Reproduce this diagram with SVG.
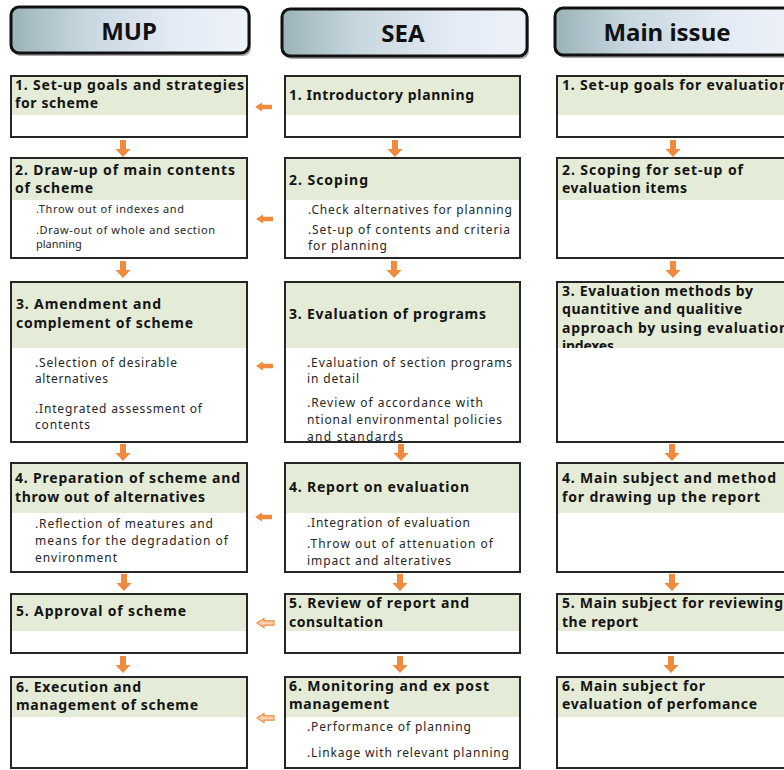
<svg xmlns="http://www.w3.org/2000/svg" width="784" height="770" viewBox="0 0 784 770">
<style>
.box{fill:none;stroke:#262626;stroke-width:2}
.bg{fill:#ffffff}
.band{fill:#e4ebd6}
.t{font-family:"Noto Sans","Liberation Sans",sans-serif;font-weight:700;font-size:14px;fill:#141414}
.i{font-family:"Noto Sans","Liberation Sans",sans-serif;font-size:12px;fill:#262626}
.s{font-size:11px}
.h{font-family:"Noto Sans","Liberation Sans",sans-serif;font-weight:700;font-size:24px;fill:#111;text-anchor:middle}
.hd{stroke:#111;stroke-width:3;fill:url(#hg)}
.hs{fill:#555;opacity:0.5}
.arr{fill:#ef8a3e}
.arr2{fill:#fbd2b2;stroke:#ef8a3e;stroke-width:1.2}
</style>
<defs>
<linearGradient id="hg" x1="0" y1="0" x2="1" y2="0">
<stop offset="0" stop-color="#9ab3b8"/>
<stop offset="0.3" stop-color="#c6d6df"/>
<stop offset="0.7" stop-color="#e4ebf5"/>
<stop offset="1" stop-color="#eef2f9"/>
</linearGradient>
<path id="dn" d="M-3 0 h6 v9 h4.5 l-7.5 8 l-7.5 -8 h4.5 z"/>
<path id="lf" d="M0 0 l7 -4.5 v2.3 h10 v4.4 h-10 v2.3 z"/>
<clipPath id="c3s"><rect x="285" y="282" width="235" height="159"/></clipPath>
<clipPath id="c3m"><rect x="557" y="282" width="240" height="66"/></clipPath>
</defs>
<rect width="784" height="770" fill="#ffffff"/>

<g id="header-mup">
<rect class="hs" x="13" y="10" width="238" height="46" rx="8"/>
<rect class="hd" x="11" y="7" width="238" height="46" rx="8"/>
<text class="h" x="129" y="40">MUP</text>
</g>
<g id="header-sea">
<rect class="hs" x="284" y="12" width="245" height="47" rx="8"/>
<rect class="hd" x="282" y="9" width="245" height="47" rx="8"/>
<text class="h" x="403" y="42">SEA</text>
</g>
<g id="header-main">
<rect class="hs" x="557" y="11" width="240" height="47" rx="8"/>
<rect class="hd" x="555" y="8" width="240" height="47" rx="8"/>
<text class="h" x="667" y="41">Main issue</text>
</g>

<!-- Row 1 -->
<g id="mup1">
<rect class="bg" x="11" y="76" width="236" height="61"/>
<rect class="band" x="11" y="76" width="236" height="39"/>
<rect class="box" x="11" y="76" width="236" height="61"/>
<text class="t" x="15" y="90" textLength="229">1. Set-up goals and strategies</text>
<text class="t" x="15" y="108" textLength="83">for scheme</text>
</g>
<g id="sea1">
<rect class="bg" x="285" y="76" width="235" height="61"/>
<rect class="band" x="285" y="76" width="235" height="39"/>
<rect class="box" x="285" y="76" width="235" height="61"/>
<text class="t" x="289" y="100" textLength="185">1. Introductory planning</text>
</g>
<g id="main1">
<rect class="bg" x="557" y="76" width="240" height="61"/>
<rect class="band" x="557" y="76" width="240" height="39"/>
<rect class="box" x="557" y="76" width="240" height="61"/>
<text class="t" x="562" y="90" textLength="226">1. Set-up goals for evaluation</text>
</g>

<!-- Row 2 -->
<g id="mup2">
<rect class="bg" x="11" y="158" width="236" height="100"/>
<rect class="band" x="11" y="158" width="236" height="42"/>
<rect class="box" x="11" y="158" width="236" height="100"/>
<text class="t" x="15" y="175" textLength="220">2. Draw-up of main contents</text>
<text class="t" x="15" y="193" textLength="78">of scheme</text>
<text class="i s" x="36" y="213" textLength="148">.Throw out of indexes and</text>
<text class="i s" x="36" y="234" textLength="179">.Draw-out of whole and section</text>
<text class="i s" x="36" y="248">planning</text>
</g>
<g id="sea2">
<rect class="bg" x="285" y="158" width="235" height="100"/>
<rect class="band" x="285" y="158" width="235" height="42"/>
<rect class="box" x="285" y="158" width="235" height="100"/>
<text class="t" x="289" y="185" textLength="79">2. Scoping</text>
<text class="i" x="308" y="214" textLength="204">.Check alternatives for planning</text>
<text class="i" x="308" y="234" textLength="202">.Set-up of contents and criteria</text>
<text class="i" x="308" y="250" textLength="79">for planning</text>
</g>
<g id="main2">
<rect class="bg" x="557" y="158" width="240" height="100"/>
<rect class="band" x="557" y="158" width="240" height="42"/>
<rect class="box" x="557" y="158" width="240" height="100"/>
<text class="t" x="562" y="175" textLength="181">2. Scoping for set-up of</text>
<text class="t" x="562" y="193" textLength="125">evaluation items</text>
</g>

<!-- Row 3 -->
<g id="mup3">
<rect class="bg" x="11" y="282" width="236" height="160"/>
<rect class="band" x="11" y="282" width="236" height="66"/>
<rect class="box" x="11" y="282" width="236" height="160"/>
<text class="t" x="16" y="309" textLength="145">3. Amendment and</text>
<text class="t" x="16" y="328" textLength="177">complement of scheme</text>
<text class="i" x="35" y="367" textLength="142">.Selection of desirable</text>
<text class="i" x="35" y="383" textLength="73">alternatives</text>
<text class="i" x="35" y="413" textLength="167">.Integrated assessment of</text>
<text class="i" x="35" y="429" textLength="55">contents</text>
</g>
<g id="sea3">
<rect class="bg" x="285" y="282" width="235" height="160"/>
<rect class="band" x="285" y="282" width="235" height="66"/>
<text class="t" x="289" y="319" textLength="197">3. Evaluation of programs</text>
<g clip-path="url(#c3s)">
<text class="i" x="307" y="367" textLength="205">.Evaluation of section programs</text>
<text class="i" x="307" y="383" textLength="52">in detail</text>
<text class="i" x="307" y="407" textLength="176">.Review of accordance with</text>
<text class="i" x="307" y="424" textLength="195">ntional environmental policies</text>
<text class="i" x="307" y="441" textLength="96">and standards</text>
</g>
<rect class="box" x="285" y="282" width="235" height="160"/>
</g>
<g id="main3">
<rect class="bg" x="557" y="282" width="240" height="160"/>
<rect class="band" x="557" y="282" width="240" height="66"/>
<g clip-path="url(#c3m)">
<text class="t" x="562" y="296" textLength="191">3. Evaluation methods by</text>
<text class="t" x="562" y="314" textLength="180">quantitive and qualitive</text>
<text class="t" x="562" y="333" textLength="226">approach by using evaluation</text>
<text class="t" x="562" y="351" textLength="52">indexes</text>
</g>
<rect class="box" x="557" y="282" width="240" height="160"/>
</g>

<!-- Row 4 -->
<g id="mup4">
<rect class="bg" x="11" y="463" width="236" height="109"/>
<rect class="band" x="11" y="463" width="236" height="50"/>
<rect class="box" x="11" y="463" width="236" height="109"/>
<text class="t" x="15" y="483" textLength="225">4. Preparation of scheme and</text>
<text class="t" x="15" y="502" textLength="190">throw out of alternatives</text>
<text class="i" x="35" y="528" textLength="178">.Reflection of meatures and</text>
<text class="i" x="35" y="545" textLength="193">means for the degradation of</text>
<text class="i" x="35" y="562" textLength="82">environment</text>
</g>
<g id="sea4">
<rect class="bg" x="285" y="463" width="235" height="109"/>
<rect class="band" x="285" y="463" width="235" height="50"/>
<rect class="box" x="285" y="463" width="235" height="109"/>
<text class="t" x="289" y="492" textLength="180">4. Report on evaluation</text>
<text class="i" x="307" y="527" textLength="163">.Integration of evaluation</text>
<text class="i" x="307" y="548" textLength="186">.Throw out of attenuation of</text>
<text class="i" x="307" y="565" textLength="144">impact and alteratives</text>
</g>
<g id="main4">
<rect class="bg" x="557" y="463" width="240" height="109"/>
<rect class="band" x="557" y="463" width="240" height="50"/>
<rect class="box" x="557" y="463" width="240" height="109"/>
<text class="t" x="562" y="483" textLength="214">4. Main subject and method</text>
<text class="t" x="562" y="502" textLength="198">for drawing up the report</text>
</g>

<!-- Row 5 -->
<g id="mup5">
<rect class="bg" x="11" y="594" width="236" height="59"/>
<rect class="band" x="11" y="594" width="236" height="37"/>
<rect class="box" x="11" y="594" width="236" height="59"/>
<text class="t" x="16" y="616" textLength="170">5. Approval of scheme</text>
</g>
<g id="sea5">
<rect class="bg" x="285" y="594" width="235" height="59"/>
<rect class="band" x="285" y="594" width="235" height="37"/>
<rect class="box" x="285" y="594" width="235" height="59"/>
<text class="t" x="289" y="608" textLength="180">5. Review of report and</text>
<text class="t" x="289" y="627" textLength="94">consultation</text>
</g>
<g id="main5">
<rect class="bg" x="557" y="594" width="240" height="59"/>
<rect class="band" x="557" y="594" width="240" height="37"/>
<rect class="box" x="557" y="594" width="240" height="59"/>
<text class="t" x="562" y="608" textLength="221">5. Main subject for reviewing</text>
<text class="t" x="562" y="627" textLength="76">the report</text>
</g>

<!-- Row 6 -->
<g id="mup6">
<rect class="bg" x="11" y="677" width="236" height="91"/>
<rect class="band" x="11" y="677" width="236" height="40"/>
<rect class="box" x="11" y="677" width="236" height="91"/>
<text class="t" x="16" y="692" textLength="125">6. Execution and</text>
<text class="t" x="16" y="710" textLength="182">management of scheme</text>
</g>
<g id="sea6">
<rect class="bg" x="285" y="677" width="235" height="91"/>
<rect class="band" x="285" y="677" width="235" height="40"/>
<rect class="box" x="285" y="677" width="235" height="91"/>
<text class="t" x="289" y="691" textLength="200">6. Monitoring and ex post</text>
<text class="t" x="289" y="709" textLength="100">management</text>
<text class="i" x="307" y="731" textLength="164">.Performance of planning</text>
<text class="i" x="307" y="757" textLength="202">.Linkage with relevant planning</text>
</g>
<g id="main6">
<rect class="bg" x="557" y="677" width="240" height="91"/>
<rect class="band" x="557" y="677" width="240" height="40"/>
<rect class="box" x="557" y="677" width="240" height="91"/>
<text class="t" x="562" y="691" textLength="143">6. Main subject for</text>
<text class="t" x="562" y="709" textLength="195">evaluation of perfomance</text>
</g>

<g id="connectors">
<use href="#dn" class="arr" x="123" y="140"/>
<use href="#dn" class="arr" x="395" y="140"/>
<use href="#dn" class="arr" x="673" y="140"/>
<use href="#dn" class="arr" x="123" y="261"/>
<use href="#dn" class="arr" x="394" y="261"/>
<use href="#dn" class="arr" x="673" y="261"/>
<use href="#dn" class="arr" x="123" y="444"/>
<use href="#dn" class="arr" x="401" y="444"/>
<use href="#dn" class="arr" x="672" y="444"/>
<use href="#dn" class="arr" x="124" y="574"/>
<use href="#dn" class="arr" x="400" y="574"/>
<use href="#dn" class="arr" x="672" y="574"/>
<use href="#dn" class="arr" x="123" y="656"/>
<use href="#dn" class="arr" x="400" y="656"/>
<use href="#dn" class="arr" x="671" y="656"/>
<use href="#lf" class="arr" x="255" y="107"/>
<use href="#lf" class="arr" x="256" y="219"/>
<use href="#lf" class="arr" x="256" y="366"/>
<use href="#lf" class="arr" x="255" y="517"/>
<use href="#lf" class="arr2" x="257" y="623"/>
<use href="#lf" class="arr2" x="257" y="718"/>
</g>
</svg>
